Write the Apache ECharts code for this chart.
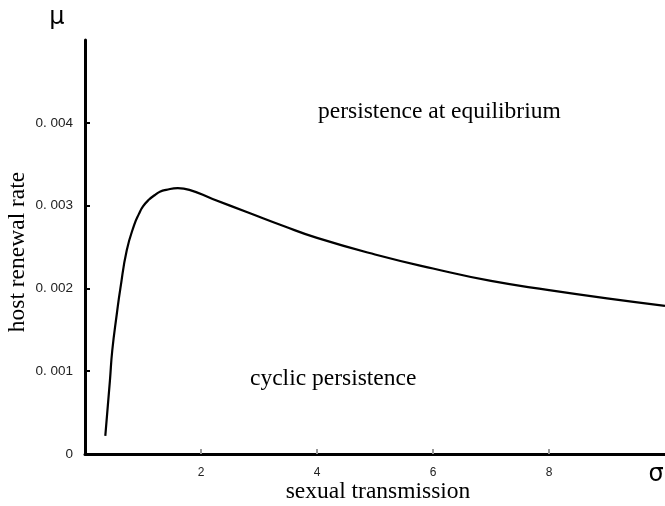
<!DOCTYPE html>
<html>
<head>
<meta charset="utf-8">
<script src="https://cdn.jsdelivr.net/npm/echarts@6/dist/echarts.min.js"></script>
<style>html,body{margin:0;padding:0;background:#fff;}#c{width:665px;height:506px;}</style>
</head>
<body>
<div id="c"></div>
<script>
var sigmaValues = [0.35, 0.43, 0.47, 0.55, 0.61, 0.72, 0.85, 0.93, 1.0, 1.1, 1.2, 1.3, 1.4, 1.6, 1.8, 2.2, 2.8, 3.4, 4.0, 5.0, 6.0, 7.0, 8.0, 9.0, 10.0];
var muValues = [0.00022, 0.00089, 0.00125, 0.0017, 0.0020, 0.00246, 0.00277, 0.00290, 0.00299, 0.00307, 0.003125, 0.00317, 0.00319, 0.00321, 0.00319, 0.00308, 0.00292, 0.00276, 0.00261, 0.00241, 0.00224, 0.00209, 0.00198, 0.00188, 0.00179];
var xTickValues = [2, 4, 6, 8];
var yTickValues = [0.001, 0.002, 0.003, 0.004];
var yLabelValues = [0, 0.001, 0.002, 0.003, 0.004];

var chart = echarts.init(document.getElementById('c'));
var serif = '"Liberation Serif", "DejaVu Serif", serif';
chart.setOption({
  animation: false,
  grid: {left: 85, right: 0, top: 40, bottom: 52},
  xAxis: {
    type: 'value', min: 0, max: 10,
    axisLine: {show: true, lineStyle: {color: '#000', width: 3}},
    axisTick: {show: true, inside: true, length: 5, customValues: xTickValues, lineStyle: {color: '#999', width: 2}},
    axisLabel: {show: true, customValues: xTickValues, margin: 13, fontSize: 12, color: '#222', fontFamily: '"Liberation Sans", Arial, sans-serif'},
    splitLine: {show: false}
  },
  yAxis: {
    type: 'value', min: 0, max: 0.005,
    axisLine: {show: true, lineStyle: {color: '#000', width: 3}},
    axisTick: {show: true, inside: true, length: 5, customValues: yTickValues, lineStyle: {color: '#000', width: 2}},
    axisLabel: {show: true, customValues: yLabelValues, margin: 12, fontSize: 13.5, color: '#222', fontFamily: '"Liberation Sans", Arial, sans-serif',
      formatter: function (v) { return v === 0 ? '0' : v.toFixed(3).replace('.', '. '); }},
    splitLine: {show: false}
  },
  series: [{
    type: 'line', smooth: 0.5, symbol: 'none',
    lineStyle: {color: '#000', width: 2.2},
    data: sigmaValues.map(function (s, i) { return [s, muValues[i]]; })
  }],
  graphic: [
    {type: 'text', x: 318, y: 112, style: {text: 'persistence at equilibrium', font: '23.5px ' + serif, fill: '#000', align: 'left', verticalAlign: 'middle'}},
    {type: 'text', x: 250, y: 379, style: {text: 'cyclic persistence', font: '23.5px ' + serif, fill: '#000', align: 'left', verticalAlign: 'middle'}},
    {type: 'text', x: 378, y: 492, style: {text: 'sexual transmission', font: '23.5px ' + serif, fill: '#000', align: 'center', verticalAlign: 'middle'}},
    {type: 'text', x: 18, y: 252, rotation: Math.PI / 2, style: {text: 'host renewal rate', font: '23.5px ' + serif, fill: '#000', align: 'center', verticalAlign: 'middle'}},
    {type: 'text', x: 57, y: 18, style: {text: 'μ', font: '24px "DejaVu Sans", sans-serif', fill: '#000', align: 'center', verticalAlign: 'middle'}},
    {type: 'text', x: 656, y: 475, style: {text: 'σ', font: '24px "DejaVu Sans", sans-serif', fill: '#000', align: 'center', verticalAlign: 'middle'}}
  ]
});
</script>
</body>
</html>
